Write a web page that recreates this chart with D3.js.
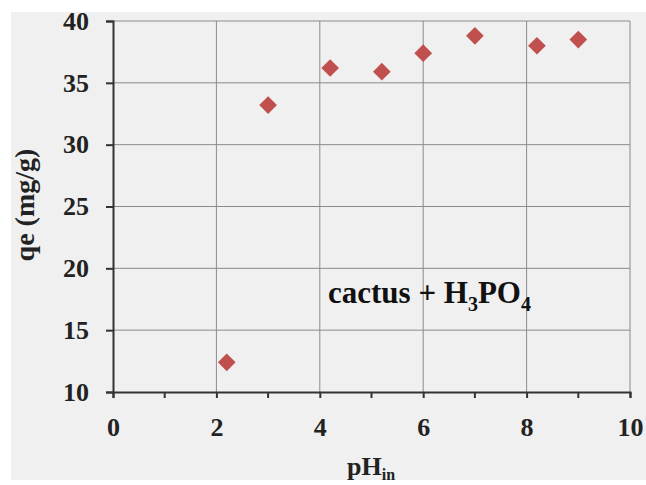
<!DOCTYPE html>
<html>
<head>
<meta charset="utf-8">
<script src="https://cdn.jsdelivr.net/npm/d3@7"></script>
<style>
  body { margin: 0; background: #fff; overflow: hidden; }
  svg { display: block; }
  text { font-family: "Liberation Serif", "Times New Roman", serif; font-weight: bold; }
</style>
</head>
<body>
<div id="chart"></div>
<script>
// data
const phValues = [2.2, 3, 4.2, 5.2, 6, 7, 8.2, 9];
const qeValues = [12.4, 33.2, 36.2, 35.9, 37.4, 38.8, 38.0, 38.5];
const xTicks = [0, 2, 4, 6, 8, 10];
const xMinorTicks = [1, 3, 5, 7, 9];
const yTicks = [10, 15, 20, 25, 30, 35, 40];

const width = 646, height = 485;
const margin = { top: 21, right: 16, bottom: 93, left: 113 };
const innerWidth = width - margin.left - margin.right;
const innerHeight = height - margin.top - margin.bottom;

const svg = d3.select('#chart').append('svg')
  .attr('width', width).attr('height', height);

// grey chart area
svg.append('rect')
  .attr('x', 11).attr('y', 12)
  .attr('width', width - 11).attr('height', 468)
  .attr('fill', '#f0f0f0');

const mainG = svg.append('g')
  .attr('transform', `translate(${margin.left}, ${margin.top})`);

const xScale = d3.scaleLinear().domain([0, 10]).range([0, innerWidth]);
const yScale = d3.scaleLinear().domain([10, 40]).range([innerHeight, 0]);

// gridlines
mainG.append('g')
  .selectAll('line')
  .data(xTicks.slice(1))
  .join('line')
  .attr('x1', d => xScale(d)).attr('x2', d => xScale(d))
  .attr('y1', 0).attr('y2', innerHeight)
  .attr('stroke', '#8a8a8a').attr('stroke-width', 1);

mainG.append('g')
  .selectAll('line')
  .data(yTicks.slice(1))
  .join('line')
  .attr('x1', 0).attr('x2', innerWidth)
  .attr('y1', d => yScale(d)).attr('y2', d => yScale(d))
  .attr('stroke', '#8a8a8a').attr('stroke-width', 1);

// axes
const xAxis = d3.axisBottom(xScale)
  .tickValues(xTicks)
  .tickSize(6)
  .tickPadding(20);

const xg = mainG.append('g')
  .attr('transform', `translate(0, ${innerHeight})`)
  .call(xAxis);
xg.select('.domain').attr('stroke', '#333').attr('stroke-width', 2);
xg.selectAll('.tick line').attr('stroke', '#333').attr('stroke-width', 2);
xg.selectAll('.tick text').style('font-size', '26px').attr('fill', '#222');

mainG.append('g')
  .selectAll('line')
  .data(xMinorTicks)
  .join('line')
  .attr('x1', d => xScale(d)).attr('x2', d => xScale(d))
  .attr('y1', innerHeight).attr('y2', innerHeight + 6)
  .attr('stroke', '#333').attr('stroke-width', 2);

const yAxis = d3.axisLeft(yScale)
  .tickValues(yTicks)
  .tickSize(7)
  .tickPadding(17);

const yg = mainG.append('g').call(yAxis);
yg.select('.domain').attr('stroke', '#333').attr('stroke-width', 2);
yg.selectAll('.tick line').attr('stroke', '#333').attr('stroke-width', 2);
yg.selectAll('.tick text').style('font-size', '26px').attr('fill', '#222');

// points
const diamond = d3.symbol().type(d3.symbolDiamond2).size(200);
mainG.append('g')
  .selectAll('path')
  .data(phValues)
  .join('path')
  .attr('d', diamond)
  .attr('transform', (d, i) => `translate(${xScale(d)}, ${yScale(qeValues[i])})`)
  .attr('fill', '#c0504d');

// labels
const note = svg.append('text')
  .attr('x', 328)
  .attr('y', 303)
  .style('font-size', '31px')
  .attr('fill', '#111');
note.append('tspan').text('cactus + H');
note.append('tspan').text('3').attr('dy', 8).style('font-size', '20px');
note.append('tspan').text('PO').attr('dy', -8);
note.append('tspan').text('4').attr('dy', 8).style('font-size', '20px');

const xLabel = svg.append('text')
  .attr('x', 347)
  .attr('y', 475)
  .style('font-size', '26px')
  .attr('fill', '#222');
xLabel.append('tspan').text('pH');
xLabel.append('tspan').text('in').attr('dy', 5).style('font-size', '16px');

svg.append('text')
  .text('qe (mg/g)')
  .attr('transform', `translate(34, 205) rotate(-90)`)
  .attr('text-anchor', 'middle')
  .style('font-size', '28px')
  .attr('fill', '#222');
</script>
</body>
</html>
